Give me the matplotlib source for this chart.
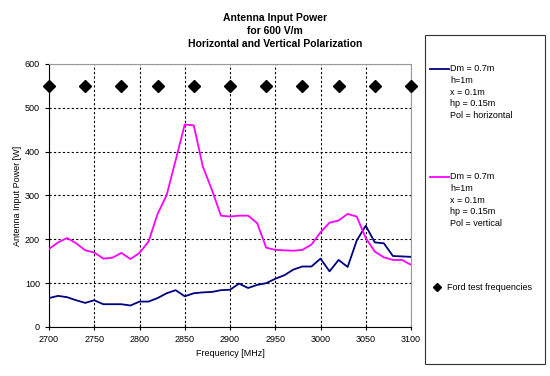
import matplotlib
matplotlib.use("Agg")
import matplotlib.pyplot as plt
from matplotlib.lines import Line2D
from matplotlib.patches import Rectangle

plt.rcParams['font.family'] = ['Liberation Sans', 'DejaVu Sans']

freq = list(range(2700, 3101, 10))
p_horizontal = [66, 71, 68, 61, 55, 61, 52, 52, 52, 49,
                58, 58, 66, 77, 84, 70, 77, 79, 80, 84,
                85, 99, 89, 96, 100, 110, 118, 131, 138, 138,
                156, 127, 153, 137, 197, 231, 193, 191, 162, 161, 160]
p_vertical = [178, 193, 203, 191, 175, 170, 156, 158, 169, 155,
              169, 195, 258, 301, 381, 462, 460, 366, 313, 254,
              252, 254, 254, 237, 181, 176, 175, 174, 176, 188,
              216, 238, 243, 258, 252, 203, 172, 159, 153, 153, 142]
ford_freq = [2700, 2740, 2780, 2820, 2860, 2900, 2940, 2980, 3020, 3060, 3100]
ford_level = [550] * len(ford_freq)

label_h = "Dm = 0.7m\nh=1m\nx = 0.1m\nhp = 0.15m\nPol = horizontal"
label_v = "Dm = 0.7m\nh=1m\nx = 0.1m\nhp = 0.15m\nPol = vertical"
label_f = "Ford test frequencies"

c_h = '#000080'
c_v = '#ff00ff'

fig = plt.figure(figsize=(5.5, 3.76), dpi=100)
ax = fig.add_axes([49/550, 1 - 327/376, 362/550, 263/376])

ax.plot(freq, p_horizontal, color=c_h, lw=1.3, zorder=3)
ax.plot(freq, p_vertical, color=c_v, lw=1.3, zorder=3)
ax.plot(ford_freq, ford_level, ls='none', marker='D', ms=6.5, color='black',
        clip_on=False, zorder=4)

ax.set_xlim(2700, 3100)
ax.set_ylim(0, 600)
ax.set_xticks(range(2700, 3101, 50))
ax.set_yticks(range(0, 601, 100))
ax.grid(True, color='black', ls=(0, (2, 2)), lw=0.8)
ax.tick_params(labelsize=6.5, length=3, width=0.8, color='black')
ax.tick_params(axis='x', direction='inout', length=5)
for s in ['top', 'right']:
    ax.spines[s].set_color('#9a9a9a')
for s in ['left', 'bottom']:
    ax.spines[s].set_color('black')
ax.set_xlabel('Frequency [MHz]', fontsize=6.5, labelpad=3)
ax.set_ylabel('Antenna Input Power [W]', fontsize=6.5, labelpad=2)

fig.text(275/550, 1 - 31/376, 'Antenna Input Power\nfor 600 V/m\nHorizontal and Vertical Polarization',
         ha='center', va='center', fontsize=7.5, fontweight='bold', linespacing=1.35)

# legend box
fig.patches.append(Rectangle((425/550, 1 - 364/376), 120/550, 329/376,
                             transform=fig.transFigure, fill=False,
                             edgecolor='#333333', lw=0.8))
fig.lines.append(Line2D([430/550, 449/550], [1 - 69/376] * 2, color=c_h, lw=1.3,
                        transform=fig.transFigure))
fig.text(450/550, 1 - 64/376, label_h, ha='left', va='top', fontsize=6.5, linespacing=1.4)
fig.lines.append(Line2D([430/550, 449/550], [1 - 177/376] * 2, color=c_v, lw=1.3,
                        transform=fig.transFigure))
fig.text(450/550, 1 - 172/376, label_v, ha='left', va='top', fontsize=6.5, linespacing=1.4)
fig.lines.append(Line2D([437/550], [1 - 287/376], ls='none', marker='D', ms=4,
                        color='black', transform=fig.transFigure))
fig.text(447/550, 1 - 287/376, label_f, ha='left', va='center', fontsize=6.5)

fig.savefig('out.png', dpi=100)
